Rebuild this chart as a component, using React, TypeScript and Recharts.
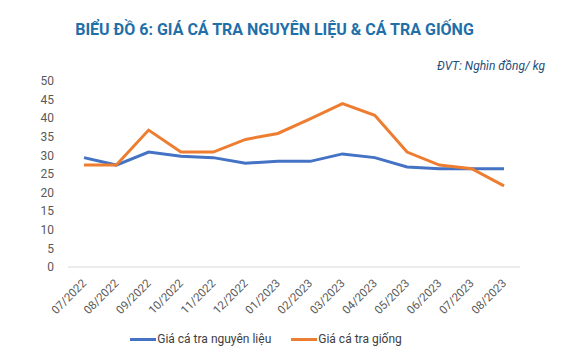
import { LineChart, Line, XAxis, YAxis, Legend } from 'recharts'

const months = ['07/2022', '08/2022', '09/2022', '10/2022', '11/2022', '12/2022', '01/2023', '02/2023', '03/2023', '04/2023', '05/2023', '06/2023', '07/2023', '08/2023']
const nguyenLieu = [29.4, 27.4, 30.9, 29.8, 29.4, 27.9, 28.4, 28.4, 30.4, 29.4, 26.9, 26.4, 26.4, 26.4]
const giong = [27.4, 27.4, 36.8, 30.9, 30.9, 34.3, 35.9, 39.8, 43.9, 40.8, 30.9, 27.4, 26.4, 21.8]
const yTicks = [0, 5, 10, 15, 20, 25, 30, 35, 40, 45, 50]

const data = months.map((m, i) => ({ month: m, nguyenLieu: nguyenLieu[i], giong: giong[i] }))

const FONT = 'Roboto, "Noto Sans", sans-serif'

function XTick({ x, y, payload }: any) {
  return (
    <text x={x + 3} y={y + 9} textAnchor="end" transform={`rotate(-45, ${x + 3}, ${y + 9})`}
      fontSize={11.5} fill="#595959" fontFamily={FONT}>
      {payload.value}
    </text>
  )
}

function LegendContent() {
  const items = [
    { label: 'Giá cá tra nguyên liệu', color: '#4472c4' },
    { label: 'Giá cá tra giống', color: '#ed7d31' },
  ]
  return (
    <div style={{ display: 'flex', justifyContent: 'center', gap: 20, fontFamily: FONT, fontSize: 12, color: '#404040', marginLeft: -16 }}>
      {items.map(it => (
        <div key={it.label} style={{ display: 'flex', alignItems: 'center' }}>
          <span style={{ display: 'inline-block', width: 26, height: 3, background: it.color, marginRight: 1 }} />
          <span>{it.label}</span>
        </div>
      ))}
    </div>
  )
}

export default function App() {
  return (
    <div style={{ position: 'absolute', left: 0, top: 0, width: 573, height: 350, background: '#fff', fontFamily: FONT }}>
      <div style={{ position: 'absolute', left: 0, width: 573, top: 20, textAlign: 'center', fontSize: 16, fontWeight: 700, color: '#1f6fa8', marginLeft: -12 }}>
        BIỂU ĐỒ 6: GIÁ CÁ TRA NGUYÊN LIỆU &amp; CÁ TRA GIỐNG
      </div>
      <div style={{ position: 'absolute', right: 28, top: 59, fontSize: 12, fontStyle: 'italic', color: '#1f4e79' }}>
        ĐVT: Nghìn đồng/ kg
      </div>
      <LineChart width={573} height={350} data={data} margin={{ top: 81, right: 53, left: 28, bottom: 11 }}>
        <XAxis dataKey="month" tick={<XTick />} tickLine={false} axisLine={{ stroke: '#d9d9d9' }}
          interval={0} height={58} padding={{ left: 16, right: 16 }} />
        <YAxis domain={[0, 50]} ticks={yTicks} interval={0} width={40} axisLine={false} tickLine={false} tickSize={12}
          tick={{ fontSize: 12, fill: '#595959', fontFamily: FONT }} />
        <Legend verticalAlign="bottom" content={<LegendContent />} wrapperStyle={{ bottom: 4 }} />
        <Line dataKey="nguyenLieu" stroke="#4472c4" strokeWidth={3} dot={false} isAnimationActive={false} />
        <Line dataKey="giong" stroke="#ed7d31" strokeWidth={3} dot={false} isAnimationActive={false} />
      </LineChart>
    </div>
  )
}
